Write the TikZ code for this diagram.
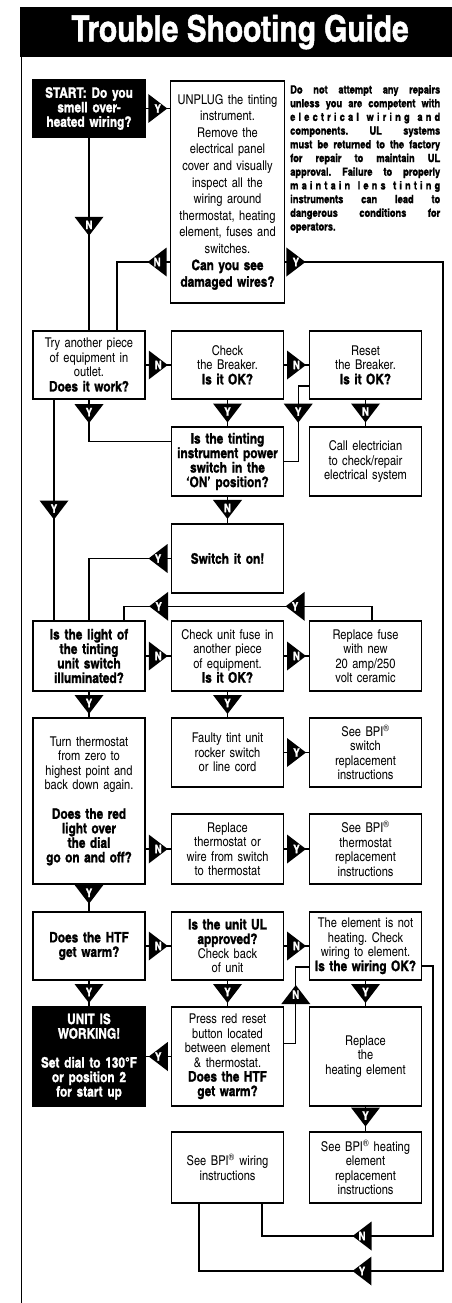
\documentclass[tikz,border=0pt]{standalone}
\usepackage{fontspec}
\setmainfont{texgyreheroscn}[Extension=.otf, UprightFont=*-regular, BoldFont=*-bold, ItalicFont=*-italic, BoldItalicFont=*-bolditalic, BoldFeatures={Scale=1.07, FakeBold=1.3}]
\usepackage{tikz}
\frenchspacing
\tikzset{
    box/.style={draw=black, line width=1.4pt, minimum width=112pt, text width=112pt, align=center, inner sep=0pt, font=\fontsize{13.5}{14.5}\selectfont},
    blackbox/.style={box, fill=black, text=white, font=\bfseries\fontsize{13.5}{14.5}\selectfont},
    boldbox/.style={box, font=\bfseries\fontsize{13.5}{14.5}\selectfont},
    titlebar/.style={fill=black, text=white, minimum width=440pt, minimum height=50pt, inner sep=0pt, font=\bfseries\fontsize{34}{34}\selectfont},
    warn/.style={text width=150pt, align=left, inner sep=0pt, font=\bfseries\fontsize{10.6}{13.7}\selectfont},
    wire/.style={line width=1.3pt},
    yn/.style={inner sep=0pt, text=white, font=\bfseries\fontsize{11}{11}\selectfont},
    ydown/.style={yn, minimum width=29pt, minimum height=19pt, text depth=3pt,
        path picture={\fill[black] (path picture bounding box.north west) -- (path picture bounding box.north east) -- (path picture bounding box.south) -- cycle;}},
    yup/.style={yn, minimum width=29pt, minimum height=19pt, text depth=0pt,
        path picture={\fill[black] (path picture bounding box.south west) -- (path picture bounding box.south east) -- (path picture bounding box.north) -- cycle;}},
    yright/.style={yn, minimum width=19pt, minimum height=29pt,
        path picture={\fill[black] (path picture bounding box.north west) -- (path picture bounding box.south west) -- (path picture bounding box.east) -- cycle;}},
    yleft/.style={yn, minimum width=19pt, minimum height=29pt,
        path picture={\fill[black] (path picture bounding box.north east) -- (path picture bounding box.south east) -- (path picture bounding box.west) -- cycle;}}}
\newcommand{\wl}[1]{\makebox[150pt][s]{\frenchspacing\spaceskip=0.2em plus 1fil\relax #1}\\}
\newcommand{\ws}{\hspace{5pt plus 3fil}}
\newcommand{\bpi}{BPI\textsuperscript{®}}

\begin{document}
\begin{tikzpicture}[x=1pt, y=-1pt]

        \useasboundingbox (0,0) rectangle (452,1303);

            \node[titlebar] (title) at (240,32) {Trouble Shooting Guide};
            \draw[wire] ([xshift=1.5pt]title.south west) -- ([xshift=1.5pt]title.south west |- 0,1303);

            \node[blackbox, minimum height=57pt] (start) at (89,108.5) {START: Do you\\ smell over-\\ heated wiring?};
            \node[box, minimum height=222pt, text width=114pt, font=\fontsize{13.5}{16.6}\selectfont] (unplug) at (227.5,192) {UNPLUG the tinting\\ instrument.\\ Remove the\\ electrical panel\\ cover and visually\\ inspect all the\\ wiring around\\ thermostat, heating\\ element, fuses and\\ switches.\\ \textbf{Can you see}\\ \textbf{damaged wires?}};
            \node[warn, anchor=north west] (warning) at (290,85) {\wl{Do not attempt any repairs}\wl{unless you are competent with}\wl{e l e c t r i c a l\ws w i r i n g\ws a n d}\wl{components. UL systems}\wl{must be returned to the factory}\wl{for repair to maintain UL}\wl{approval. Failure to properly}\wl{m a i n t a i n\ws l e n s\ws t i n t i n g}\wl{instruments can lead to}\wl{dangerous conditions for}operators.};

            \node[box, minimum height=68pt] (try) at (89,365) {Try another piece\\ of equipment in\\ outlet.\\ \textbf{Does it work?}};
            \node[box, minimum height=68pt] (breaker) at (227.5,365) {Check\\ the Breaker.\\ \textbf{Is it OK?}};
            \node[box, minimum height=68pt] (reset) at (365.5,365) {Reset\\ the Breaker.\\ \textbf{Is it OK?}};
            \node[boldbox, minimum height=69pt] (power) at (227.5,461.5) {Is the tinting\\ instrument power\\ switch in the\\ ‘ON’ position?};
            \node[box, minimum height=69pt] (callel) at (365.5,461.5) {Call electrician\\ to check/repair\\ electrical system};
            \node[boldbox, minimum height=69pt] (switchon) at (227.5,558.5) {Switch it on!};

            \node[boldbox, minimum height=70pt] (light) at (89,656) {Is the light of\\ the tinting\\ unit switch\\ illuminated?};
            \node[box, minimum height=70pt] (fuse) at (227.5,656) {Check unit fuse in\\ another piece\\ of equipment.\\ \textbf{Is it OK?}};
            \node[box, minimum height=70pt] (repfuse) at (365.5,656) {Replace fuse\\ with new\\ 20 amp/250\\ volt ceramic};
            \node[box, minimum height=69pt] (faulty) at (227.5,752.5) {Faulty tint unit\\ rocker switch\\ or line cord};
            \node[box, minimum height=69pt] (bpiswitch) at (365.5,752.5) {See \bpi\\ switch\\ replacement\\ instructions};
            \node[box, minimum height=166pt] (turn) at (89,801) {Turn thermostat\\ from zero to\\ highest point and\\ back down again.\\[14.5pt] \textbf{Does the red}\\ \textbf{light over}\\ \textbf{the dial}\\ \textbf{go on and off?}};
            \node[box, minimum height=70pt] (repthermo) at (227.5,849) {Replace\\ thermostat or\\ wire from switch\\ to thermostat};
            \node[box, minimum height=70pt] (bpithermo) at (365.5,849) {See \bpi\\ thermostat\\ replacement\\ instructions};

            \node[boldbox, minimum height=68pt] (htf) at (89,946) {Does the HTF\\ get warm?};
            \node[box, minimum height=68pt] (ul) at (227.5,946) {\textbf{Is the unit UL}\\ \textbf{approved?}\\ Check back\\ of unit};
            \node[box, minimum height=68pt] (wiring) at (365.5,946) {The element is not\\ heating. Check\\ wiring to element.\\ \textbf{Is the wiring OK?}};
            \node[blackbox, minimum height=99pt] (working) at (89,1056.5) {UNIT IS\\ WORKING!\\[14.5pt] Set dial to 130°F\\ or position 2\\ for start up};
            \node[box, minimum height=99pt] (press) at (227.5,1056.5) {Press red reset\\ button located\\ between element\\ \& thermostat.\\ \textbf{Does the HTF}\\ \textbf{get warm?}};
            \node[box, minimum height=99pt] (element) at (365.5,1056.5) {Replace\\ the\\ heating element};
            \node[box, minimum height=71pt] (bpiwire) at (227.5,1167.5) {See \bpi{} wiring\\ instructions};
            \node[box, minimum height=71pt] (bpiheat) at (365.5,1167.5) {See \bpi{} heating\\ element\\ replacement\\ instructions};

            \coordinate (ycorner) at (443,1271);
            \coordinate (ncorner) at (433,1236);

            \draw[wire] (start) -- (unplug.west |- start) node[midway, yright] {Y};
            \draw[wire] (start) -- (try) node[pos=0.46, ydown] {N};
            \draw[wire] ([yshift=-70pt]unplug.west) -| ([xshift=28pt]try.north) node[pos=0.12, yleft] {N};
            \draw[wire] ([yshift=-70pt]unplug.east) -| (ycorner) node[pos=0.034, yright] {Y} -| ([xshift=-28.5pt]bpiwire.south) node[pos=0.166, yleft] {Y};

            \draw[wire] (try) -- (breaker) node[midway, yright] {N};
            \draw[wire] (breaker) -- (reset) node[midway, yright] {N};
            \draw[wire] (try.south) |- ([yshift=20pt]power.west) node[pos=0.167, ydown] {Y};
            \draw[wire] ([xshift=-35pt]try.south) -- ([xshift=-35pt]light.north) node[midway, ydown] {Y};
            \draw[wire] (breaker) -- (power) node[midway, ydown] {Y};
            \draw[wire] ([yshift=-21pt]reset.west) -| ([xshift=14pt]power.east) node[pos=0.68, ydown] {Y} -- (power.east);
            \draw[wire] (reset) -- (callel) node[midway, ydown] {N};
            \draw[wire] (power) -- (switchon) node[pos=0.48, ydown] {N};
            \draw[wire] (switchon.west) -| (light.north) node[pos=0.078, yleft] {Y};
            \draw[wire] ([xshift=6.5pt]repfuse.north) -- ++(0,-14) -| ([xshift=35pt]light.north) node[pos=0.155, yleft] {Y} node[pos=0.43, yleft] {Y};

            \draw[wire] (light) -- (fuse) node[midway, yright] {N};
            \draw[wire] (fuse) -- (repfuse) node[midway, yright] {N};
            \draw[wire] (light) -- (turn) node[midway, ydown] {Y};
            \draw[wire] (fuse) -- (faulty) node[midway, ydown] {Y};
            \draw[wire] (faulty) -- (bpiswitch) node[midway, yright] {Y};
            \draw[wire] (turn.east |- repthermo) -- (repthermo) node[midway, yright] {N};
            \draw[wire] (repthermo) -- (bpithermo) node[midway, yright] {Y};
            \draw[wire] (turn) -- (htf) node[pos=0.36, ydown] {Y};

            \draw[wire] (htf) -- (ul) node[midway, yright] {N};
            \draw[wire] (ul) -- (wiring) node[midway, yright] {N};
            \draw[wire] (htf) -- (working) node[midway, ydown] {Y};
            \draw[wire] (ul) -- (press) node[midway, ydown] {Y};
            \draw[wire] (wiring) -- (element) node[midway, ydown] {Y};
            \draw[wire] (press) -- (working) node[midway, yleft] {Y};
            \draw[wire] ([yshift=13pt]press.east) -| ([xshift=-13pt, yshift=-21pt]wiring.west) node[pos=0.82, yup] {N} -- ([yshift=-21pt]wiring.west);
            \draw[wire] (element) -- (bpiheat) node[pos=0.42, ydown] {Y};
            \draw[wire] ([yshift=-20pt]wiring.east) -| (ncorner) -| ([xshift=34.5pt]bpiwire.south) node[pos=0.2075, yleft] {N};

        \end{tikzpicture}
\end{document}
